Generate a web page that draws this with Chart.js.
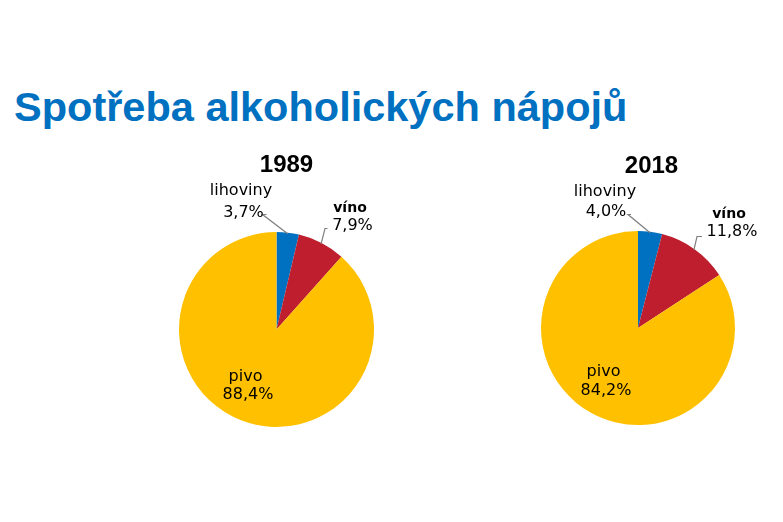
<!DOCTYPE html>
<html lang="cs">
<head>
<meta charset="utf-8">
<script src="https://cdn.jsdelivr.net/npm/chart.js@4"></script>
<style>
    html, body { margin: 0; padding: 0; background: #fff; }
    body { width: 783px; height: 522px; position: relative; overflow: hidden; }
    #nadpis {
        position: absolute; left: 14px; top: 83px; margin: 0;
        font: bold 41.5px "Liberation Sans", Arial, sans-serif;
        color: #0070C0; white-space: nowrap;
    }
    canvas { position: absolute; top: 0; }
</style>
</head>
<body>
<h1 id="nadpis">Spotřeba alkoholických nápojů</h1>
<canvas id="graf1989" width="400" height="522" style="left:0"></canvas>
<canvas id="graf2018" width="383" height="522" style="left:400px"></canvas>
<script>
const kategorie = ['lihoviny', 'víno', 'pivo'];
const roky = ['1989', '2018'];
const hodnoty1989 = [3.7, 7.9, 88.4];
const hodnoty2018 = [4.0, 11.8, 84.2];
const barvy = ['#0070C0', '#BE1E2D', '#FFC000'];

// umisteni popisku vuci stredu kolace (nazev, hodnota, vodici cara)
const popisky1989 = {
    rok: [10, -158],
    poz: [
        { nazev: [-35.5, -135], hodnota: [-33, -113], cara: [[-10, -115], [-14, -115]] },
        { nazev: [73.5, -118], hodnota: [76, -100], cara: [[51, -101], [48.5, -101]], tucne: true },
        { nazev: [-31, 51], hodnota: [-28.5, 69] }
    ]
};
const popisky2018 = {
    rok: [13.5, -155.5],
    poz: [
        { nazev: [-33, -132], hodnota: [-32, -112], cara: [[-7, -113.5], [-10, -113.5]] },
        { nazev: [91, -110], hodnota: [94, -92], cara: [[64, -91.5], [59, -91.5]], tucne: true },
        { nazev: [-34.5, 48], hodnota: [-32, 66.5] }
    ]
};

const popiskyPlugin = {
    id: 'popisky',
    afterDatasetsDraw(chart, args, opts) {
        const c = chart.ctx;
        const meta = chart.getDatasetMeta(0);
        const arcs = meta.data;
        const cx = arcs[0].x, cy = arcs[0].y;
        const hodnoty = chart.data.datasets[0].data;
        c.save();
        c.textAlign = 'center';
        c.textBaseline = 'alphabetic';
        c.fillStyle = '#000';
        c.font = 'bold 24px "Liberation Sans", Arial, sans-serif';
        c.fillText(opts.rok, cx + opts.umisteni.rok[0], cy + opts.umisteni.rok[1]);

        arcs.forEach((arc, i) => {
            const p = opts.umisteni.poz[i];
            const stred = (arc.startAngle + arc.endAngle) / 2;
            if (p.cara) {
                c.strokeStyle = '#7f7f7f';
                c.lineWidth = 1.2;
                c.beginPath();
                c.moveTo(cx + p.cara[0][0], cy + p.cara[0][1]);
                c.lineTo(cx + p.cara[1][0], cy + p.cara[1][1]);
                c.lineTo(cx + Math.cos(stred) * (arc.outerRadius - 1), cy + Math.sin(stred) * (arc.outerRadius - 1));
                c.stroke();
            }
            c.fillStyle = '#000';
            c.font = (p.tucne ? 'bold 14px' : '16px') + ' "DejaVu Sans", Verdana, sans-serif';
            c.fillText(chart.data.labels[i], cx + p.nazev[0], cy + p.nazev[1]);
            c.font = '16px "DejaVu Sans", Verdana, sans-serif';
            const txt = hodnoty[i].toFixed(1).replace('.', ',') + '%';
            c.fillText(txt, cx + p.hodnota[0], cy + p.hodnota[1]);
        });
        c.restore();
    }
};

function vytvorGraf(id, hodnoty, rok, umisteni, padding) {
    return new Chart(document.getElementById(id), {
        type: 'pie',
        data: {
            labels: kategorie,
            datasets: [{
                data: hodnoty,
                backgroundColor: barvy,
                borderWidth: 0,
                hoverOffset: 0
            }]
        },
        options: {
            responsive: false,
            animation: false,
            devicePixelRatio: 1,
            layout: { padding: padding },
            plugins: {
                legend: { display: false },
                tooltip: { enabled: false },
                title: { display: false },
                popisky: { rok: rok, umisteni: umisteni }
            }
        },
        plugins: [popiskyPlugin]
    });
}

vytvorGraf('graf1989', hodnoty1989, roky[0], popisky1989, { left: 179, right: 26, top: 232, bottom: 95 });
vytvorGraf('graf2018', hodnoty2018, roky[1], popisky2018, { left: 141, right: 48, top: 231, bottom: 97 });
</script>
</body>
</html>
